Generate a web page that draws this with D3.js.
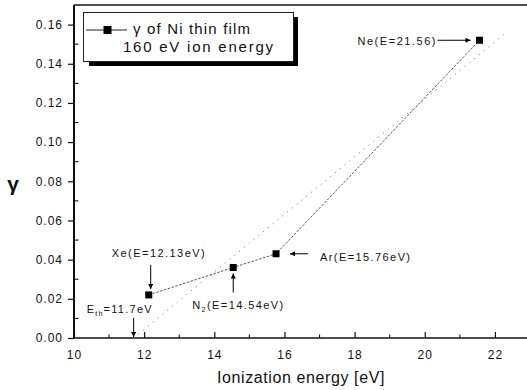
<!DOCTYPE html>
<html><head><meta charset="utf-8">
<script src="https://cdn.jsdelivr.net/npm/d3@7"></script>
<style>
html,body{margin:0;padding:0;background:#fff;}
svg{display:block;font-family:"Liberation Sans",Arial,sans-serif;}
</style></head>
<body><svg id="c" width="527" height="390"></svg>
<script>
// ---- data ----
const gases = ["Xe", "N2", "Ar", "Ne"];
const ionEnergy = [12.13, 14.54, 15.76, 21.56];
const gammaVals = [0.022, 0.036, 0.043, 0.152];
const fitX = [11.7, 22.3];
const fitY = [0, 0.1556];
const thresholdE = 11.7;
const xTicks = [10, 12, 14, 16, 18, 20, 22];
const xMinor = [11, 13, 15, 17, 19, 21];
const yTicks = [0, 0.02, 0.04, 0.06, 0.08, 0.10, 0.12, 0.14, 0.16];
const yMinor = [0.01, 0.03, 0.05, 0.07, 0.09, 0.11, 0.13, 0.15];
const legendLines = ["γ of Ni thin film", "160 eV ion energy"];
const xTitle = "Ionization energy [eV]";
const yTitle = "γ";

const svg = d3.select("#c");
const L = 74, R = 530, T = 5, B = 338;
const x = d3.scaleLinear().domain([10, 23]).range([L, R]);
const y = d3.scaleLinear().domain([0, 0.17]).range([B, T]);

const defs = svg.append("defs");
defs.append("marker").attr("id", "ah").attr("viewBox", "0 0 10 10")
  .attr("refX", 10).attr("refY", 5).attr("markerWidth", 7).attr("markerHeight", 5)
  .attr("markerUnits", "userSpaceOnUse").attr("orient", "auto")
  .append("path").attr("d", "M0,0 L10,5 L0,10 Z").attr("fill", "#000");

// frame
svg.append("line").attr("x1", L).attr("x2", R).attr("y1", T).attr("y2", T).attr("stroke", "#111").attr("stroke-width", 1.4);
svg.append("line").attr("x1", L).attr("x2", L).attr("y1", T).attr("y2", B).attr("stroke", "#111").attr("stroke-width", 2);

// x axis: ticks inward
const xAxis = d3.axisBottom(x).tickValues(xTicks).tickSize(-6).tickPadding(12).tickFormat(d3.format("d"));
const gx = svg.append("g").attr("transform", `translate(0,${B})`).call(xAxis);
gx.select(".domain").attr("stroke", "#111").attr("stroke-width", 1.5).attr("d", `M${L},0H${R}`);
gx.selectAll(".tick line").attr("stroke", "#111").attr("stroke-width", 1.2);
gx.selectAll(".tick text").attr("font-size", 12).attr("fill", "#111").attr("letter-spacing", 1).attr("font-family", "Liberation Sans, Arial, sans-serif");
svg.append("g").selectAll("line").data(xMinor).join("line")
  .attr("x1", d => x(d)).attr("x2", d => x(d)).attr("y1", B).attr("y2", B - 3.5)
  .attr("stroke", "#111").attr("stroke-width", 1.1);

// y axis: major ticks outward, minor inward
const yAxis = d3.axisLeft(y).tickValues(yTicks).tickSize(6).tickPadding(5).tickFormat(d3.format(".2f"));
const gy = svg.append("g").attr("transform", `translate(${L},0)`).call(yAxis);
gy.select(".domain").remove();
gy.selectAll(".tick line").attr("stroke", "#111").attr("stroke-width", 1.2);
gy.selectAll(".tick text").attr("font-size", 12).attr("fill", "#111").attr("letter-spacing", 1).attr("font-family", "Liberation Sans, Arial, sans-serif");
svg.append("g").selectAll("line").data(yMinor).join("line")
  .attr("x1", L).attr("x2", L + 4.5).attr("y1", d => y(d)).attr("y2", d => y(d))
  .attr("stroke", "#111").attr("stroke-width", 1.1);

// titles
svg.append("text").attr("x", (x(10) + x(23)) / 2 - 1).attr("y", 383).attr("text-anchor", "middle")
  .attr("font-size", 16).attr("letter-spacing", 0.6).attr("fill", "#111").text(xTitle);
svg.append("text").attr("x", 13).attr("y", 191).attr("text-anchor", "middle")
  .attr("font-size", 21).attr("font-weight", "bold").attr("fill", "#111").text(yTitle);

// fit line (sparse dotted)
svg.append("line").attr("x1", x(fitX[0])).attr("y1", y(fitY[0])).attr("x2", x(fitX[1])).attr("y2", y(fitY[1]))
  .attr("stroke", "#777").attr("stroke-width", 0.9).attr("stroke-dasharray", "1.2,5");

// data line
const line = d3.line().x((d, i) => x(ionEnergy[i])).y((d, i) => y(gammaVals[i]));
svg.append("path").attr("d", line(gases)).attr("fill", "none")
  .attr("stroke", "#444").attr("stroke-width", 0.9).attr("stroke-dasharray", "2.5,1.5");

// markers
svg.append("g").selectAll("rect").data(gases).join("rect")
  .attr("x", (d, i) => x(ionEnergy[i]) - 3.5).attr("y", (d, i) => y(gammaVals[i]) - 3.5)
  .attr("width", 7).attr("height", 7).attr("fill", "#000");

// annotations
function arrow(x1, y1, x2, y2) {
  svg.append("line").attr("x1", x1).attr("y1", y1).attr("x2", x2).attr("y2", y2)
    .attr("stroke", "#000").attr("stroke-width", 1).attr("marker-end", "url(#ah)");
}
function label(tx, ty, parts, len) {
  const t = svg.append("text").attr("x", tx).attr("y", ty).attr("font-size", 11).attr("fill", "#111");
  parts.forEach(p => {
    const s = t.append("tspan").text(p.t);
    if (p.sub) s.attr("font-size", 7).attr("dy", 3);
    if (p.up) s.attr("dy", -3);
  });
  if (len) t.attr("textLength", len).attr("lengthAdjust", "spacing");
}
const px = i => x(ionEnergy[i]), py = i => y(gammaVals[i]);
// Xe
label(px(0) - 37, py(0) - 38, [{t: "Xe(E=" + ionEnergy[0] + "eV)"}], 93);
arrow(px(0) + 2, py(0) - 30, px(0) + 2, py(0) - 6);
// N2
label(px(1) - 41, py(1) + 42, [{t: "N"}, {t: "2", sub: true}, {t: "(E=" + ionEnergy[1] + "eV)", up: true}], 91);
arrow(px(1), py(1) + 25, px(1), py(1) + 6);
// Ar
label(px(2) + 44, py(2) + 7, [{t: "Ar(E=" + ionEnergy[2] + "eV)"}], 90);
arrow(px(2) + 32, py(2), px(2) + 14, py(2));
// Ne
label(px(3) - 122, py(3) + 5, [{t: "Ne(E=" + ionEnergy[3] + ")"}], 78);
arrow(px(3) - 42, py(3), px(3) - 9, py(3));
// threshold
label(x(thresholdE) - 47, y(0) - 25, [{t: "E"}, {t: "th", sub: true}, {t: "=" + thresholdE + "eV", up: true}], 65);
arrow(x(thresholdE), y(0) - 20, x(thresholdE), y(0) - 1);

// legend
svg.append("rect").attr("x", 89).attr("y", 17).attr("width", 209).attr("height", 49).attr("fill", "#000");
svg.append("rect").attr("x", 83.5).attr("y", 12.5).attr("width", 210).attr("height", 49)
  .attr("fill", "#fff").attr("stroke", "#222").attr("stroke-width", 1);
svg.append("line").attr("x1", 86).attr("x2", 127).attr("y1", 30).attr("y2", 30).attr("stroke", "#222").attr("stroke-width", 1);
svg.append("rect").attr("x", 103.5).attr("y", 26).attr("width", 8).attr("height", 8).attr("fill", "#000");
svg.append("text").attr("x", 133).attr("y", 34).attr("font-size", 15).attr("fill", "#111")
  .attr("textLength", 117).attr("lengthAdjust", "spacing").text(legendLines[0]);
svg.append("text").attr("x", 123).attr("y", 52).attr("font-size", 15).attr("fill", "#111")
  .attr("textLength", 150).attr("lengthAdjust", "spacing").text(legendLines[1]);
</script></body></html>
